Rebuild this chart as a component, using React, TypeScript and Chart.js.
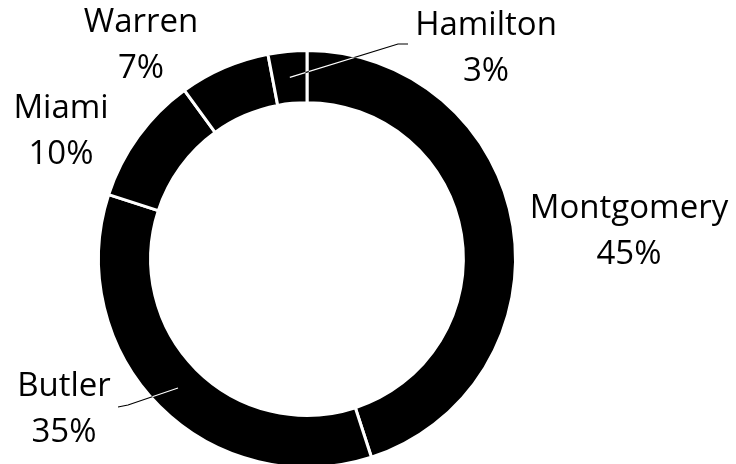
import React, { useEffect, useRef } from "react";
import { Chart, registerables } from "chart.js";

Chart.register(...registerables);

// ---- data ----
const categories: string[] = ["Montgomery", "Butler", "Miami", "Warren", "Hamilton"];
const shares: number[] = [45, 35, 10, 7, 3];
const sliceColors: string[] = ["#000000", "#000000", "#000000", "#000000", "#000000"];

// ---- layout (label anchors relative to chart centre; first-line baseline) ----
const LABEL_OFFSETS: number[][] = [
  [322, -41],
  [-243, 137],
  [-246, -141],
  [-166, -227],
  [179, -224],
];
// leader line points (relative to chart centre) after the slice centroid
const LEADERS: (number[][] | null)[] = [
  null,
  [[-179, 146], [-189, 148]],
  null,
  null,
  [[91, -215], [101, -215]],
];

const FONT = '33px "Open Sans", "Noto Sans", sans-serif';
const LINE_GAP = 46;

const whiteBg = {
  id: "whiteBg",
  beforeDraw(chart: any) {
    const ctx = chart.ctx;
    ctx.save();
    ctx.fillStyle = "#ffffff";
    ctx.fillRect(0, 0, chart.width, chart.height);
    ctx.restore();
  },
};

const labelPlugin = {
  id: "sliceLabels",
  afterDatasetsDraw(chart: any) {
    const ctx = chart.ctx;
    const meta = chart.getDatasetMeta(0);
    const data = chart.data.datasets[0].data as number[];
    const total = data.reduce((a, b) => a + b, 0);
    meta.data.forEach((arc: any, i: number) => {
      const { x, y } = arc.getProps(["x", "y"], true);
      const leader = LEADERS[i];
      if (leader) {
        const c = arc.tooltipPosition(true);
        ctx.save();
        ctx.globalCompositeOperation = "difference";
        ctx.strokeStyle = "#ffffff";
        ctx.lineWidth = 1.2;
        ctx.beginPath();
        ctx.moveTo(c.x, c.y);
        leader.forEach((p) => ctx.lineTo(x + p[0], y + p[1]));
        ctx.stroke();
        ctx.restore();
      }
      const off = LABEL_OFFSETS[i];
      const pct = Math.round((data[i] / total) * 100) + "%";
      ctx.save();
      ctx.fillStyle = "#000000";
      ctx.font = FONT;
      ctx.textAlign = "center";
      ctx.textBaseline = "alphabetic";
      ctx.fillText(chart.data.labels[i], x + off[0], y + off[1]);
      ctx.fillText(pct, x + off[0], y + off[1] + LINE_GAP);
      ctx.restore();
    });
  },
};

export default function App() {
  const ref = useRef<HTMLCanvasElement | null>(null);
  useEffect(() => {
    if (!ref.current) return;
    const chart = new Chart(ref.current, {
      type: "doughnut",
      data: {
        labels: categories,
        datasets: [
          {
            data: shares,
            backgroundColor: sliceColors,
            borderColor: "#ffffff",
            borderWidth: 3,
          },
        ],
      },
      options: {
        responsive: false,
        animation: false,
        devicePixelRatio: 1,
        radius: 208.5,
        cutout: "75%",
        rotation: 0,
        layout: { padding: { left: 98, right: 220, top: 50, bottom: 12 } },
        plugins: {
          legend: { display: false },
          tooltip: { enabled: false },
        },
        events: [],
      } as any,
      plugins: [whiteBg, labelPlugin],
    });
    return () => chart.destroy();
  }, []);
  return (
    <div
      style={{
        position: "fixed",
        left: 0,
        top: 0,
        width: 736,
        height: 464,
        overflow: "hidden",
        background: "#ffffff",
      }}
    >
      <canvas ref={ref} width={736} height={480} style={{ display: "block", width: 736, height: 480 }} />
    </div>
  );
}
